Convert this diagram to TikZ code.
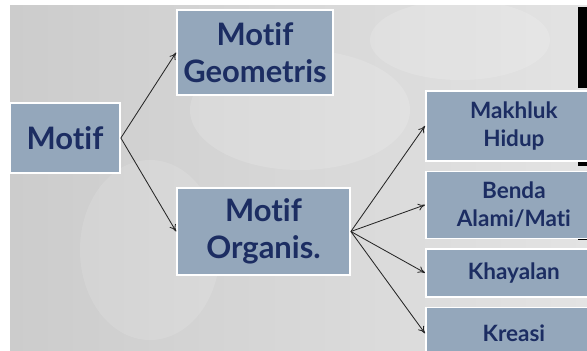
\documentclass[tikz,border=0pt]{standalone}
\usepackage{fontspec}
\setmainfont{Lato}[Ligatures=NoCommon]
\usetikzlibrary{positioning,arrows.meta}
\definecolor{boxfill}{HTML}{94A7BB}
\definecolor{boxtext}{HTML}{1C2D62}
\begin{document}
\begin{tikzpicture}[x=0.025cm,y=-0.025cm,node distance=2.2mm,m/.style={draw=white,line width=1.2pt,fill=boxfill,text=boxtext,font=\bfseries\fontsize{22}{26}\selectfont,align=center,inner sep=0pt},s/.style={m,font=\bfseries\fontsize{16}{19.5}\selectfont,minimum width=4.4cm,anchor=north west},a/.style={-{To[length=5pt,width=5pt]},line width=.6pt,black!85}]
\useasboundingbox(0,0)rectangle(587,350);
\clip(0,0)rectangle(587,350);
% background
\fill[white](0,0)rectangle(587,350);
\shade[left color=gray!40,right color=gray!22](10,5)rectangle(587,350);
\fill[white,opacity=.15](300,110)ellipse(110 and 60);
\fill[white,opacity=.15](460,40)ellipse(90 and 40);
\fill[white,opacity=.12](150,250)ellipse(70 and 90);
\fill[black](578,7)rectangle(587,88);
\fill[black](578,162)rectangle(587,166);
\fill[black](578,237)rectangle(587,240);
% boxes
\node[m,minimum width=2.75cm,minimum height=1.75cm](motif)at(65,138){Motif};
\node[m,minimum width=3.9cm,minimum height=2.125cm](geo)at(255,52.5){Motif\\Geometris};
\node[m,minimum width=4.325cm,minimum height=2.175cm](org)at(263.5,231.5){Motif\\Organis.};
\node[s,minimum height=1.75cm](mh)at(425,90){Makhluk\\Hidup};
\node[s,minimum height=1.675cm,below=of mh](bd){Benda\\Alami/Mati};
\node[s,minimum height=1.2cm,below=of bd](kh){Khayalan};
\node[s,minimum height=1.3cm,below=of kh](kr){Kreasi};
% arrows
\draw[a](motif.east)--(geo.west);
\draw[a](motif.east)--(org.west);
\foreach \t in {mh,bd,kh,kr}\draw[a](org.east)--(\t.west);
\end{tikzpicture}
\end{document}
